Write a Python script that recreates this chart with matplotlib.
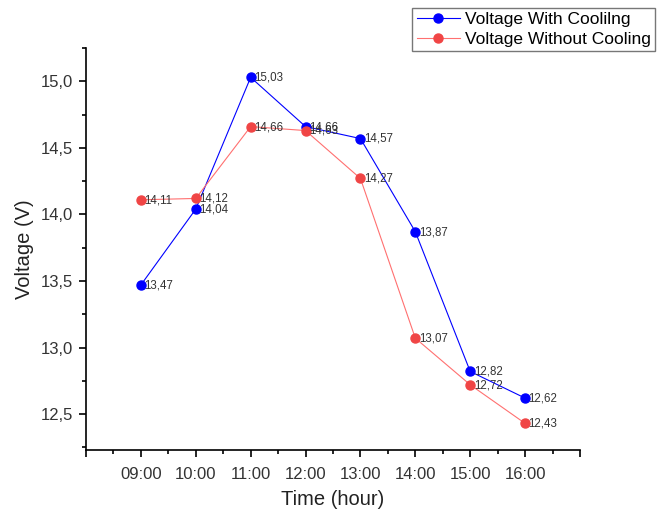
import matplotlib
matplotlib.use("Agg")
import matplotlib.pyplot as plt
from matplotlib.ticker import MultipleLocator, FixedLocator, FuncFormatter

hours = [9, 10, 11, 12, 13, 14, 15, 16]
hour_labels = ["09:00", "10:00", "11:00", "12:00", "13:00", "14:00", "15:00", "16:00"]
with_cooling = [13.47, 14.04, 15.03, 14.66, 14.57, 13.87, 12.82, 12.62]
without_cooling = [14.11, 14.12, 14.66, 14.63, 14.27, 13.07, 12.72, 12.43]

plt.rcParams['font.family'] = ['Liberation Sans', 'DejaVu Sans']

fig = plt.figure(figsize=(6.64, 5.14), dpi=100)
ax = fig.add_axes([0.1295, 0.1245, 0.744, 0.782])

blue = '#0000FF'
red = '#F04545'
l1, = ax.plot(hours, with_cooling, '-o', color=blue, lw=0.8, ms=6.5, label='Voltage With Coolilng')
l2, = ax.plot(hours, without_cooling, '-o', color='#FF7070', mfc=red, mec=red, lw=0.8, ms=6.5,
              label='Voltage Without Cooling')

def fmt(v):
    return f"{v:.2f}".replace('.', ',')

for x, y in zip(hours, with_cooling):
    ax.annotate(fmt(y), (x, y), xytext=(2.5, -0.3), textcoords='offset points',
                ha='left', va='center', fontsize=8.3, color='#333333')
for x, y in zip(hours, without_cooling):
    ax.annotate(fmt(y), (x, y), xytext=(2.5, -0.3), textcoords='offset points',
                ha='left', va='center', fontsize=8.3, color='#333333')

ax.set_xlim(8, 17)
ax.set_ylim(12.23, 15.25)
ax.xaxis.set_major_locator(FixedLocator(list(range(8, 18))))
lab = {h: s for h, s in zip(hours, hour_labels)}
ax.xaxis.set_major_formatter(FuncFormatter(lambda v, p: lab.get(int(round(v)), '')))
ax.xaxis.set_minor_locator(MultipleLocator(0.5))
ax.yaxis.set_major_locator(MultipleLocator(0.5))
ax.yaxis.set_minor_locator(MultipleLocator(0.25))
ax.yaxis.set_major_formatter(FuncFormatter(lambda v, p: f"{v:.1f}".replace('.', ',')))

for s in ['top', 'right']:
    ax.spines[s].set_visible(False)
for s in ['left', 'bottom']:
    ax.spines[s].set_linewidth(1.2)
ax.tick_params(which='major', direction='out', length=5, width=1.2, labelsize=12, colors='black',
               labelcolor='#333333', pad=4)
ax.tick_params(which='minor', direction='out', length=3, width=1.2)
ax.tick_params(axis='x', pad=7)

ax.set_xlabel('Time (hour)', fontsize=14.5, color='#222222', labelpad=6)
ax.set_ylabel('Voltage (V)', fontsize=14.5, color='#222222', labelpad=5)

leg = fig.legend(handles=[l1, l2], loc='upper right', bbox_to_anchor=(0.987, 0.985),
                 fontsize=12.5, frameon=True, fancybox=False, edgecolor='#555555',
                 borderpad=0.25, handlelength=2.5, handletextpad=0.3, labelspacing=0.25,
                 borderaxespad=0)
leg.get_frame().set_linewidth(1.0)

fig.savefig('out.png', dpi=100)
